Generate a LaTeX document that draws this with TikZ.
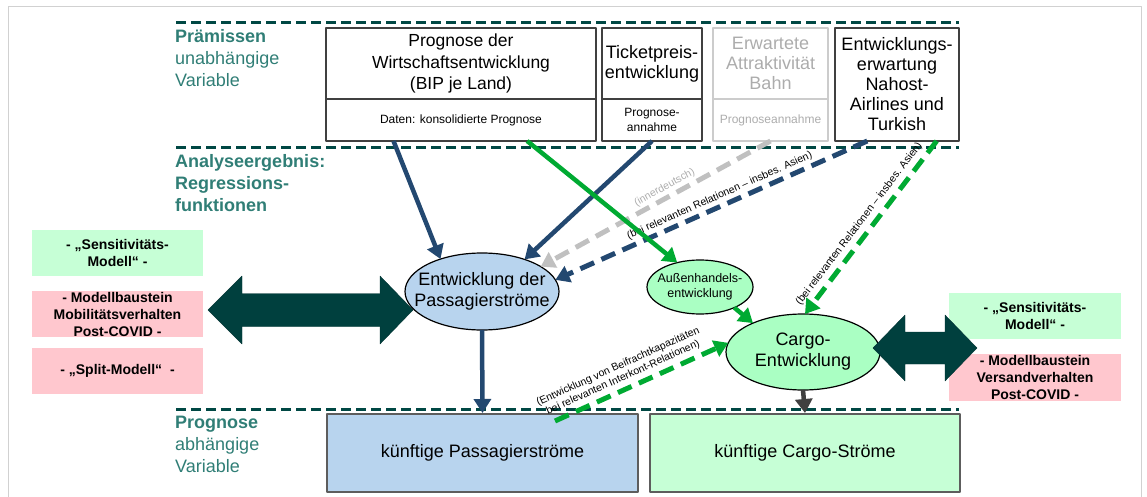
\documentclass[tikz,border=0pt]{standalone}
\usepackage{fontspec}
\setmainfont{Liberation Sans}
\usetikzlibrary{arrows.meta,shapes.geometric,calc}
\definecolor{tealtxt}{RGB}{48,126,118}
\definecolor{tealsep}{RGB}{0,72,68}
\definecolor{bigteal}{RGB}{0,64,62}
\definecolor{navy}{RGB}{35,72,112}
\definecolor{grn}{RGB}{0,170,50}
\definecolor{lgray}{RGB}{192,192,192}
\definecolor{bahngray}{RGB}{172,172,172}
\definecolor{pasblue}{RGB}{184,212,238}
\definecolor{ellgrn}{RGB}{170,255,195}
\definecolor{boxgrn}{RGB}{198,255,214}
\definecolor{boxpink}{RGB}{255,199,206}
\definecolor{dgray}{RGB}{64,64,64}
\begin{document}
\begin{tikzpicture}[x=1pt, y=-1pt, line join=round, >={Triangle[length=14pt,width=17pt]},
	topbox/.style={draw=dgray, line width=1.5pt, minimum width=#1, inner sep=1pt, outer sep=0pt, align=center},
	sidebox/.style={minimum width=171, minimum height=46, inner sep=0pt, align=center, font=\fside},
	botbox/.style={draw=dgray!85, line width=2pt, minimum width=311, minimum height=78, font=\ftop},
	ell/.style={ellipse, draw=black, line width=1.2pt, inner sep=0pt, outer sep=0pt},
	sepline/.style={draw=tealsep, line width=3pt, dash pattern=on 10pt off 5pt},
	lbl/.style={anchor=north west, inner sep=0pt, align=left, text=tealtxt, font=\flbl},
	navyarr/.style={draw=navy, line width=4.5pt, ->},
	grnarr/.style={draw=grn, line width=4.5pt, ->},
	dasharr/.style={line width=5pt, dash pattern=on 15pt off 8pt, ->},
	relnote/.style={sloped, above, inner sep=2.5pt, font=\fnote, align=center}]
	\def\ftop{\fontsize{18}{20}\selectfont} \def\ftopa{\fontsize{17.5}{21.5}\selectfont}
	\def\fsmall{\fontsize{12}{15}\selectfont} \def\flbl{\fontsize{18}{22}\selectfont}
	\def\fside{\fontsize{14}{17}\selectfont\bfseries} \def\fell{\fontsize{18}{21}\selectfont}
	\def\faus{\fontsize{12.5}{15}\selectfont} \def\fnote{\fontsize{10.5}{12}\selectfont}
	\useasboundingbox (0,0) rectangle (1147,497);
	\draw[black!18, line width=1pt] (8,510) |- (1141,7) -- (1141,510);
	% Trennlinien und Ebenen
	\draw[sepline] (176,23) -- (959,23);
	\draw[sepline] (176,148) -- (959,148);
	\draw[sepline] (176,409) -- (959,409);
	\node[lbl] (praem) at (175,29.5) {\textbf{Prämissen}\\unabhängige\\Variable};
	\node[lbl] (analyse) at (175,154) {\textbf{Analyseergebnis:}\\\textbf{Regressions-}\\\textbf{funktionen}};
	\node[lbl] (progn) at (175,416) {\textbf{Prognose}\\abhängige\\Variable};
	% Prämissen
	\node[topbox=270, minimum height=71, font=\ftopa] (wirt) at (461,63.5) {Prognose der\\Wirtschaftsentwicklung\\(BIP je Land)};
	\node[topbox=270, minimum height=42, font=\fsmall] (wirtdat) at (461,120) {Daten: konsolidierte Prognose};
	\node[topbox=100, minimum height=71, font=\ftop] (ticket) at (652,63.5) {Ticketpreis-\\entwicklung};
	\node[topbox=100, minimum height=42, font=\fsmall] (ticketdat) at (652,120) {Prognose-\\annahme};
	\node[topbox=115, minimum height=71, font=\ftop, draw=black!20, text=bahngray] (bahn) at (770.5,63.5) {Erwartete\\Attraktivität\\Bahn};
	\node[topbox=115, minimum height=42, font=\fsmall, draw=black!20, text=bahngray] (bahndat) at (770.5,120) {Prognoseannahme};
	\node[topbox=124, minimum height=113, font=\ftop] (nahost) at (897,84.5) {Entwicklungs-\\erwartung\\Nahost-\\Airlines und\\Turkish};
	% Modelle links und rechts
	\node[sidebox, fill=boxgrn] (sensl) at (117.5,253) {- „Sensitivitäts-\\Modell“ -};
	\node[sidebox, fill=boxpink] (mobil) at (117.5,314) {- Modellbaustein\\Mobilitätsverhalten\\Post-COVID -};
	\node[sidebox, fill=boxpink] (split) at (117.5,371) {- „Split-Modell“~~-};
	\node[sidebox, minimum width=172, fill=boxgrn] (sensr) at (1035,316) {- „Sensitivitäts-\\Modell“ -};
	\node[sidebox, minimum width=172, minimum height=47, fill=boxpink] (versand) at (1035,377.5) {- Modellbaustein\\Versandverhalten\\Post-COVID -};
	% Regressionen
	\node[ell, fill=pasblue, minimum width=154, minimum height=77] (pas) at (482,291.5) {};
	\node[ell, fill=ellgrn, minimum width=106, minimum height=54] (aussen) at (700,287) {};
	\node[ell, fill=ellgrn, minimum width=154, minimum height=76] (cargo) at (803,352) {};
	\fill[bigteal, draw=bigteal!80!black] (208,310) -- (242,276) -- (242,293.5) -- (380,293.5) -- (380,276) -- (413,310)
		-- (380,344) -- (380,326.5) -- (242,326.5) -- (242,344) -- cycle;
	\fill[bigteal, draw=bigteal!80!black] (873,348) -- (905,315) -- (905,332) -- (945,332) -- (945,315) -- (977,348)
		-- (945,381) -- (945,364) -- (905,364) -- (905,381) -- cycle;
	\node[font=\fell, align=center] (pastxt) at (pas) {Entwicklung der\\Passagierströme};
	\node[font=\faus, align=center] (aussentxt) at (aussen) {Außenhandels-\\entwicklung};
	\node[font=\fell, align=center] (cargotxt) at (cargo) {Cargo-\\Entwicklung};
	% Prognose
	\node[botbox, fill=pasblue] (pasbox) at (482.5,453) {künftige Passagierströme};
	\node[botbox, minimum width=310, fill=boxgrn] (cargobox) at (805,453) {künftige Cargo-Ströme};
	\coordinate (beifr) at (555,421);
	% Verbindungen
	\draw[navyarr] ($(wirtdat.south west)!.25!(wirtdat.south east)$) -- (pas.142);
	\draw[navyarr] (ticketdat.south) -- (pas.37);
	\draw[dasharr, draw=lgray] (bahndat.south) -- node[relnote, pos=.44, text=bahngray] (innerd) {(innerdeutsch)} (pas.23);
	\draw[dasharr, draw=navy] ($(nahost.south west)!.26!(nahost.south east)$) -- node[relnote, pos=.46] (asienp) {(bei relevanten Relationen – insbes. Asien)} (pas.9);
	\draw[grnarr] ($(wirtdat.south west)!.745!(wirtdat.south east)$) -- (aussen.133);
	\draw[dasharr, draw=grn] ($(nahost.south west)!.82!(nahost.south east)$) -- node[relnote, pos=.52, inner sep=4pt] (asienc) {(bei relevanten Relationen – insbes. Asien)} (cargo.87);
	\draw[grnarr] (aussen.-31) -- (cargo.150);
	\draw[dasharr, draw=grn] (beifr) -- node[relnote, pos=.42, inner sep=4pt] (beifrtxt) {(Entwicklung von Beifrachtkapazitäten\\bei relevanten Interkont-Relationen)} (cargo.173);
	\draw[navyarr] (pas.south) -- (pasbox.north);
	\draw[draw=dgray, line width=4.5pt, ->] (cargo.south) -- (cargobox.north);
\end{tikzpicture}
\end{document}
